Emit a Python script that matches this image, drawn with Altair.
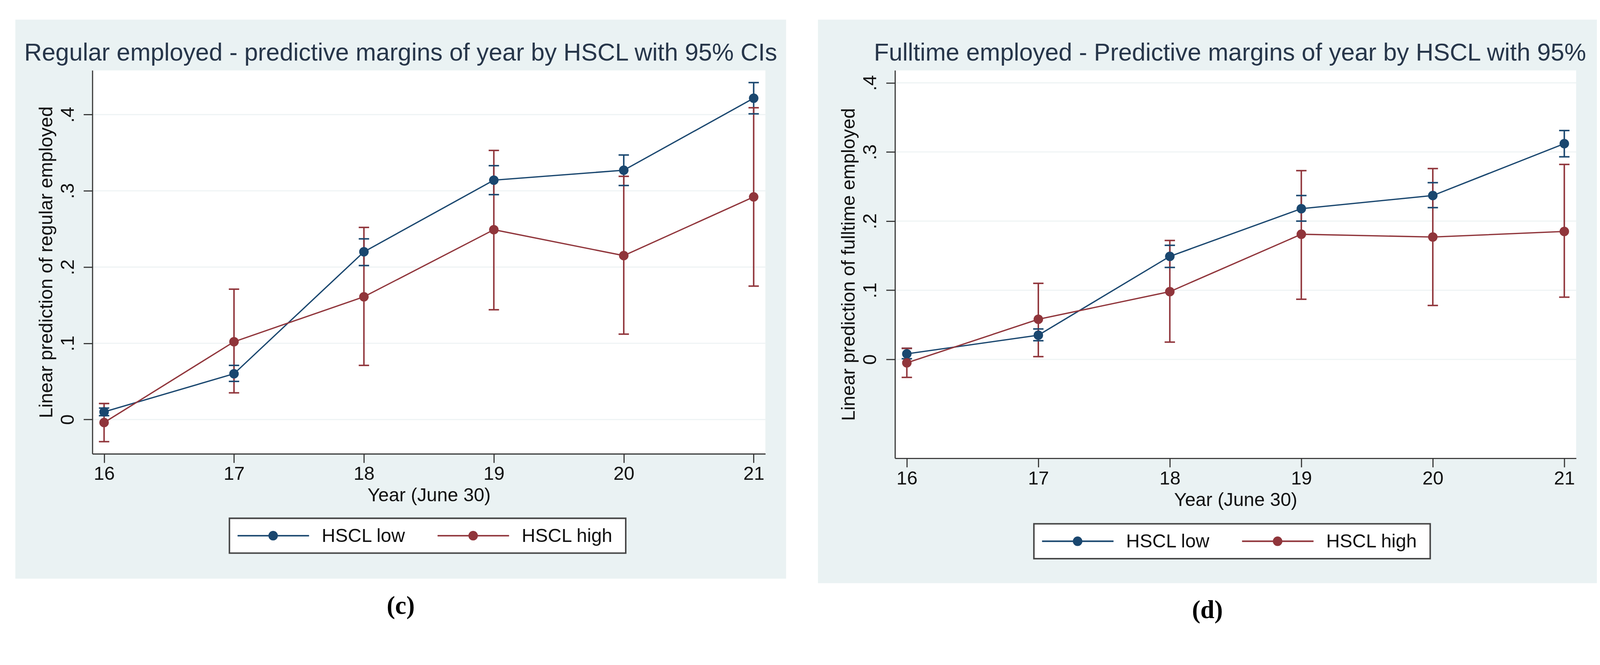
import altair as alt
import pandas as pd

# ---------------- data ----------------
years = [16, 17, 18, 19, 20, 21]
series_names = ["HSCL low", "HSCL high"]
y_ticks = [0, 0.1, 0.2, 0.3, 0.4]

# panel (c): regular employed
c_low = [0.010, 0.060, 0.220, 0.314, 0.327, 0.4215]
c_low_lo = [0.005, 0.050, 0.202, 0.295, 0.307, 0.401]
c_low_hi = [0.015, 0.071, 0.237, 0.333, 0.347, 0.442]
c_high = [-0.004, 0.102, 0.161, 0.249, 0.215, 0.292]
c_high_lo = [-0.029, 0.035, 0.071, 0.144, 0.112, 0.175]
c_high_hi = [0.021, 0.171, 0.252, 0.353, 0.319, 0.409]

# panel (d): fulltime employed
d_low = [0.008, 0.035, 0.149, 0.218, 0.237, 0.312]
d_low_lo = [0.001, 0.027, 0.133, 0.200, 0.2195, 0.293]
d_low_hi = [0.016, 0.044, 0.165, 0.237, 0.2556, 0.331]
d_high = [-0.005, 0.058, 0.098, 0.181, 0.177, 0.185]
d_high_lo = [-0.026, 0.004, 0.025, 0.087, 0.078, 0.090]
d_high_hi = [0.016, 0.110, 0.172, 0.273, 0.276, 0.282]

# ---------------- styling ----------------
NAVY = "#1a476f"
MAROON = "#90353b"
BG = "#eaf2f3"
GRID = "#eef3f4"
TITLE_COLOR = "#27364a"
TEXT = "#111111"
AXIS = "#333333"
FONT = "Liberation Sans"


def build_df(low, low_lo, low_hi, high, high_lo, high_hi):
    rows = []
    for i, yr in enumerate(years):
        rows.append({"year": yr, "series": series_names[0], "est": low[i], "lo": low_lo[i], "hi": low_hi[i]})
        rows.append({"year": yr, "series": series_names[1], "est": high[i], "lo": high_lo[i], "hi": high_hi[i]})
    return pd.DataFrame(rows)


def panel(df, title, title_align, title_x, ytitle, ydomain, W, H, label, lx, ly):
    xscale = alt.Scale(domain=[15.91, 21.09], nice=False, zero=False)
    yscale = alt.Scale(domain=ydomain, nice=False, zero=False)
    cscale = alt.Scale(domain=series_names, range=[NAVY, MAROON])

    x_axis = alt.Axis(
        values=years, format="d", title="Year (June 30)", grid=False, zindex=1,
        domainColor=AXIS, domainWidth=3, tickColor=AXIS, tickWidth=3, tickSize=24,
        labelFont=FONT, labelFontSize=51, labelColor=TEXT, labelPadding=6, labelFlush=False,
        titleFont=FONT, titleFontSize=51, titleFontWeight="normal", titleColor=TEXT, titlePadding=8,
    )
    y_axis = alt.Axis(
        values=y_ticks, title=ytitle, grid=False, zindex=1,
        labelExpr="datum.value == 0 ? '0' : replace(format(datum.value, '.1f'), '0.', '.')",
        domainColor=AXIS, domainWidth=3, tickColor=AXIS, tickWidth=3, tickSize=24,
        labelFont=FONT, labelFontSize=51, labelColor=TEXT, labelPadding=16, labelFlush=False,
        labelAngle=270, labelAlign="center", labelBaseline="bottom",
        titleFont=FONT, titleFontSize=51, titleFontWeight="normal", titleColor=TEXT, titlePadding=6,
    )
    x = alt.X("year:Q", scale=xscale, axis=x_axis)

    def yenc(field):
        return alt.Y(field, scale=yscale, axis=y_axis)

    one = alt.Data(values=[{}])
    background = alt.Chart(one).mark_rect(fill=BG, strokeWidth=0).encode(
        x=alt.value(-208), x2=alt.value(W + 56), y=alt.value(-137), y2=alt.value(H + 337)
    )
    plotarea = alt.Chart(one).mark_rect(fill="white", strokeWidth=0).encode(
        x=alt.value(0), x2=alt.value(W), y=alt.value(0), y2=alt.value(H)
    )
    grid = alt.Chart(pd.DataFrame({"v": y_ticks})).mark_rule(color=GRID, strokeWidth=3).encode(
        y=yenc("v:Q"), x=alt.value(0), x2=alt.value(W)
    )

    base = alt.Chart(df)
    color = alt.Color("series:N", scale=cscale, legend=None)
    bars = base.mark_rule(strokeWidth=4).encode(x=x, y=yenc("lo:Q"), y2="hi:Q", color=color)
    cap_lo = base.mark_tick(orient="horizontal", size=28, thickness=4, opacity=1).encode(
        x=x, y=yenc("lo:Q"), color=color
    )
    cap_hi = base.mark_tick(orient="horizontal", size=28, thickness=4, opacity=1).encode(
        x=x, y=yenc("hi:Q"), color=color
    )
    line = base.mark_line(strokeWidth=3.5).encode(x=x, y=yenc("est:Q"), color=color)
    points = base.mark_point(filled=True, size=660, opacity=1, strokeWidth=0).encode(
        x=x, y=yenc("est:Q"), color=color
    )

    title_mark = alt.Chart(alt.Data(values=[{"t": title}])).mark_text(
        font=FONT, fontSize=66, color=TITLE_COLOR, align=title_align, baseline="alphabetic",
    ).encode(text="t:N", x=alt.value(title_x), y=alt.value(-27))

    tag = alt.Chart(alt.Data(values=[{"t": label}])).mark_text(
        font="Liberation Serif", fontSize=68, fontWeight="bold", color="#000000",
        align="center", baseline="middle",
    ).encode(text="t:N", x=alt.value((W - 152) / 2), y=alt.value(H + 412))

    # legend box (key drawn from the series names and the same colour scale)
    leg_df = pd.DataFrame({"series": series_names})
    legend_layers = [
        alt.Chart(one).mark_rect(fill="white", stroke="#444444", strokeWidth=4).encode(
            x=alt.value(lx), x2=alt.value(lx + 1070), y=alt.value(ly), y2=alt.value(ly + 94)
        )
    ]
    step = 540
    for i, name in enumerate(series_names):
        sub = alt.Chart(leg_df).transform_filter(alt.datum.series == name)
        x0 = lx + 22 + i * step
        legend_layers.append(
            sub.mark_rule(strokeWidth=4).encode(
                x=alt.value(x0), x2=alt.value(x0 + 193), y=alt.value(ly + 47), color=color
            )
        )
        legend_layers.append(
            sub.mark_point(filled=True, size=660, opacity=1, strokeWidth=0).encode(
                x=alt.value(x0 + 96), y=alt.value(ly + 47), color=color
            )
        )
        legend_layers.append(
            sub.mark_text(font=FONT, fontSize=51, color=TEXT, align="left", baseline="middle").encode(
                text="series:N", x=alt.value(x0 + 227), y=alt.value(ly + 49)
            )
        )

    return alt.layer(
        background, plotarea, grid, bars, cap_lo, cap_hi, line, points, title_mark, tag, *legend_layers
    ).properties(width=W, height=H)


df_c = build_df(c_low, c_low_lo, c_low_hi, c_high, c_high_lo, c_high_hi)
df_d = build_df(d_low, d_low_lo, d_low_hi, d_high, d_high_lo, d_high_hi)

W1, H1 = 1817, 1035
W2, H2 = 1839, 1047
left = panel(
    df_c, "Regular employed  - predictive margins of year by HSCL with 95% CIs", "center", (W1 - 152) / 2,
    "Linear prediction of regular employed", [-0.045, 0.458], W1, H1, "(c)", 370, 1209,
)
right = panel(
    df_d, "Fulltime employed - Predictive margins of year by HSCL with 95%", "left", -57,
    "Linear prediction of fulltime employed", [-0.143, 0.418], W2, H2, "(d)", 375, 1224,
)

chart = (
    alt.hconcat(left, right, spacing=86)
    .resolve_scale(x="independent", y="independent", color="independent")
    .properties(padding={"left": 33, "top": 0, "right": 0, "bottom": 0}, background="white")
    .configure_view(stroke=None)
)

chart.save("out.html", embed_options={"renderer": "svg", "actions": False})
